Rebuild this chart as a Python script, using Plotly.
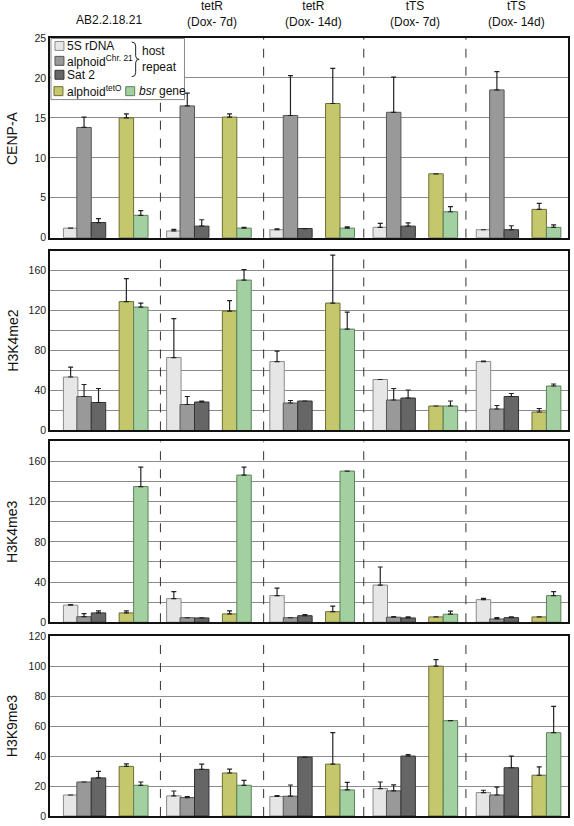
import plotly.graph_objects as go

# ---------------- data ----------------
groups = ["AB2.2.18.21", "tetR<br>(Dox- 7d)", "tetR<br>(Dox- 14d)", "tTS<br>(Dox- 7d)", "tTS<br>(Dox- 14d)"]
series = ["5S rDNA", "alphoid<sup>Chr. 21</sup>", "Sat 2", "alphoid<sup>tetO</sup>", "<i>bsr</i> gene"]
panels = ["CENP-A", "H3K4me2", "H3K4me3", "H3K9me3"]

# rows: 5S rDNA, alphoid Chr21, Sat2, alphoid tetO, bsr ; columns: groups
cenpa_mean = [[1.2, 0.85, 1.0, 1.3, 1.0],
              [13.8, 16.5, 15.3, 15.7, 18.5],
              [1.9, 1.45, 1.15, 1.45, 1.0],
              [15.0, 15.1, 16.8, 8.0, 3.55],
              [2.8, 1.2, 1.2, 3.25, 1.3]]
cenpa_err = [[0, 0.2, 0.1, 0.5, 0],
             [1.3, 1.6, 5.0, 4.4, 2.3],
             [0.5, 0.8, 0, 0.4, 0.5],
             [0.5, 0.4, 4.4, 0, 0.75],
             [0.6, 0.1, 0.15, 0.65, 0.3]]

k4me2_mean = [[53.5, 73, 69, 51, 69],
              [34, 26, 27.5, 30.5, 21.5],
              [28, 28.5, 29.5, 32.5, 34],
              [129, 119.5, 127.5, 24.5, 18.5],
              [123.5, 150.5, 101.5, 24.5, 44.5]]
k4me2_err = [[10, 39, 10.5, 0, 0.5],
             [12, 8, 2.5, 11.5, 3.5],
             [14, 1, 0, 8, 3],
             [23, 10.5, 48, 0, 3.5],
             [4, 10.5, 17, 5, 2]]

k4me3_mean = [[17, 23.5, 26.5, 37, 22.5],
              [5.5, 4.5, 4.5, 5, 3.3],
              [9.3, 4.3, 6.5, 4.3, 4.6],
              [9.3, 8.3, 10.5, 5.3, 5.3],
              [135, 146.5, 150.5, 8, 26.5]]
k4me3_err = [[0.5, 7, 7.5, 18, 1.3],
             [3, 0, 0, 0.6, 1.3],
             [2, 0, 1, 1, 0.7],
             [2, 3, 5.5, 0, 0],
             [19.5, 8, 0, 3, 4]]

k9me3_mean = [[14, 13.4, 13, 18.3, 15.6],
              [22.7, 12.3, 13.2, 16.8, 14],
              [25.4, 31.1, 39.3, 40, 32.2],
              [33.1, 28.7, 34.6, 100, 27.2],
              [20.5, 20.5, 17.4, 63.6, 55.6]]
k9me3_err = [[0, 3.3, 0.6, 4.4, 1.6],
             [0, 0.7, 7.5, 4, 5.3],
             [4.4, 3.5, 0, 0.9, 7.7],
             [1.7, 2.6, 21, 4.4, 5.6],
             [2.2, 3.3, 5.1, 0, 17.6]]

y_ranges = [(0, 25), (0, 180), (0, 180), (0, 120)]
y_dticks = [5, 40, 40, 20]
y_minor = [None, 20, 20, None]

# ---------------- style ----------------
FONT = "Liberation Sans, Arial, Helvetica, sans-serif"
fills = ["#e6e6e6", "#999999", "#666666", "#c4c76c", "#a2d0a0"]
edges = ["#8a8a8a", "#555555", "#333333", "#6d6d35", "#5e805c"]
offsets = [0.16, 0.29, 0.43, 0.70, 0.84]
BAR_W = 0.14
separators = [1.03, 2.03, 3.0, 3.99]
X_RANGE = [-0.04, 4.979]

W, H = 574, 826
ML, MR, MT, MB = 50, 4, 38, 5
PW, PH = W - ML - MR, H - MT - MB


def px(p):
    return (p - ML) / PW


def py(p):
    return (H - MB - p) / PH


domains_px = [(239, 38), (433, 252), (626, 444), (821, 640)]

means = [cenpa_mean, k4me2_mean, k4me3_mean, k9me3_mean]
errs = [cenpa_err, k4me2_err, k4me3_err, k9me3_err]

fig = go.Figure()
shapes = []
annotations = []

for pi in range(4):
    suffix = "" if pi == 0 else str(pi + 1)
    xa, ya = "x" + suffix, "y" + suffix
    for si in range(5):
        xs = [g + offsets[si] for g in range(5)]
        fig.add_trace(go.Bar(
            x=xs, y=means[pi][si], width=BAR_W,
            marker=dict(color=fills[si], line=dict(color=edges[si], width=1)),
            error_y=dict(type="data", symmetric=False, array=errs[pi][si],
                         arrayminus=[0] * 5, color="#222222", thickness=1.2, width=2.5),
            xaxis=xa, yaxis=ya, showlegend=False, name=series[si]))
    bot, top = domains_px[pi]
    fig.layout["xaxis" + suffix] = dict(
        domain=[0, 1], range=X_RANGE, anchor=ya, showticklabels=False, ticks="",
        showgrid=False, zeroline=False, showline=True, mirror=True,
        linecolor="#111111", linewidth=1.5)
    yax = dict(
        domain=[py(bot), py(top)], range=list(y_ranges[pi]), dtick=y_dticks[pi],
        anchor=xa, showgrid=True, gridcolor="#8c8c8c", gridwidth=1, zeroline=False,
        showline=True, mirror=True, linecolor="#111111", linewidth=1.5, ticks="",
        tickfont=dict(family=FONT, size=10.5, color="#222222"))
    if y_minor[pi]:
        yax["minor"] = dict(dtick=y_minor[pi], showgrid=True, gridcolor="#8c8c8c", gridwidth=1)
    fig.layout["yaxis" + suffix] = yax
    for s in separators:
        shapes.append(dict(type="line", xref=xa, yref=ya + " domain", x0=s, x1=s, y0=0, y1=1,
                           line=dict(color="#333333", width=1, dash="dash"), layer="above"))
    annotations.append(dict(text=panels[pi], xref="paper", yref="paper", x=px(12),
                            y=py((bot + top) / 2), xanchor="center", yanchor="middle",
                            textangle=-90, showarrow=False,
                            font=dict(family=FONT, size=14, color="#111111")))

# group labels
bounds = [X_RANGE[0]] + separators + [X_RANGE[1]]
for g in range(5):
    c = (bounds[g] + bounds[g + 1]) / 2
    two = "<br>" in groups[g]
    annotations.append(dict(text=groups[g], xref="x", yref="paper", x=c + (0.04 if g == 0 else 0),
                            y=py(14 if two else 20), xanchor="center", yanchor="middle",
                            showarrow=False,
                            font=dict(family=FONT, size=12, color="#111111")))

# manual legend
shapes.append(dict(type="rect", xref="paper", yref="paper", x0=px(51), x1=px(185), y0=py(100),
                   y1=py(38.5), fillcolor="white", line=dict(color="#888888", width=1), layer="above"))
leg = [(0, 55, 46, 65), (1, 55, 61, 65), (2, 55, 75, 65), (3, 54, 91.5, 65), (4, 126, 91.5, 137)]
for si, sx, sy, tx in leg:
    shapes.append(dict(type="rect", xref="paper", yref="paper", x0=px(sx), x1=px(sx + 9),
                       y0=py(sy + 4.5), y1=py(sy - 4.5), fillcolor=fills[si],
                       line=dict(color=edges[si], width=1), layer="above"))
    annotations.append(dict(text=series[si], xref="paper", yref="paper", x=px(tx), y=py(sy),
                            xanchor="left", yanchor="middle", showarrow=False,
                            font=dict(family=FONT, size=12, color="#111111")))

bp = [(132, 42), (136, 42), (136, 46), (136, 56), (136, 59.5), (139.5, 59.5), (136, 59.5),
      (136, 63), (136, 73), (136, 77), (132, 77)]
q = [(px(a), py(b)) for a, b in bp]
path = ("M {0[0]},{0[1]} Q {1[0]},{1[1]} {2[0]},{2[1]} L {3[0]},{3[1]} "
        "Q {4[0]},{4[1]} {5[0]},{5[1]} Q {6[0]},{6[1]} {7[0]},{7[1]} "
        "L {8[0]},{8[1]} Q {9[0]},{9[1]} {10[0]},{10[1]}").format(*q)
shapes.append(dict(type="path", xref="paper", yref="paper", path=path,
                   line=dict(color="#222222", width=1), layer="above"))
annotations.append(dict(text="host<br>repeat", xref="paper", yref="paper", x=px(140), y=py(59),
                        xanchor="left", yanchor="middle", align="left", showarrow=False,
                        font=dict(family=FONT, size=12, color="#111111")))

fig.update_layout(
    width=W, height=H, margin=dict(l=ML, r=MR, t=MT, b=MB),
    paper_bgcolor="white", plot_bgcolor="white", barmode="overlay",
    shapes=shapes, annotations=annotations, font=dict(family=FONT))

fig.write_html("out.html", config={"displayModeBar": False},
               post_script="document.body.style.margin='0';")
